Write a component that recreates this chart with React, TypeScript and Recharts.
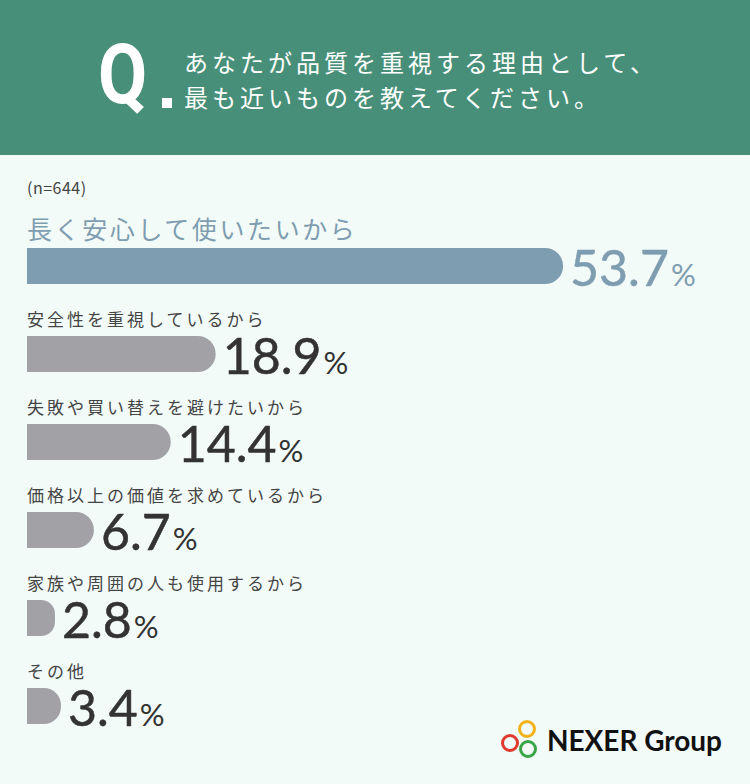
import { BarChart, Bar, XAxis, YAxis, Cell, LabelList } from 'recharts'

document.body.style.margin = '0'

const categories = [
  '長く安心して使いたいから',
  '安全性を重視しているから',
  '失敗や買い替えを避けたいから',
  '価格以上の価値を求めているから',
  '家族や周囲の人も使用するから',
  'その他',
]
const shares = [53.7, 18.9, 14.4, 6.7, 2.8, 3.4]
const barColors = ['#7f9db0', '#a1a1a6', '#a1a1a6', '#a1a1a6', '#a1a1a6', '#a1a1a6']
const questionLines = ['あなたが品質を重視する理由として、', '最も近いものを教えてください。']
const sampleNote = '(n=644)'

const data = categories.map((name, i) => ({ name, value: shares[i] }))

const JP = '"Noto Sans CJK JP", "Noto Sans", sans-serif'
const NUM = 'Lato, "Noto Sans", sans-serif'

function CategoryLabel(props: any) {
  const { x, y, value, index } = props
  const first = index === 0
  return (
    <text
      x={x}
      y={first ? y - 9 : y - 10}
      fill={first ? '#7f9db0' : '#444'}
      fontSize={first ? 25 : 17}
      letterSpacing={first ? 2.6 : 3}
      fontFamily={JP}
    >
      {value}
    </text>
  )
}

function ValueLabel(props: any) {
  const { x, y, width, height, value, index } = props
  const first = index === 0
  const color = first ? '#7f9db0' : '#333'
  return (
    <text x={x + width + 7} y={y + height + 2} fill={color} fontFamily={NUM}>
      <tspan fontSize={50} stroke={color} strokeWidth={0.5}>
        {value.toFixed(1)}
      </tspan>
      <tspan fontSize={31} dx={2}>%</tspan>
    </text>
  )
}

export default function App() {
  return (
    <div
      style={{
        position: 'relative',
        width: 750,
        height: 784,
        background: '#f2fbf8',
        overflow: 'hidden',
      }}
    >
      <div style={{ position: 'absolute', left: 0, top: 0, width: 750, height: 155, background: '#478f79' }}>
        <div
          style={{
            position: 'absolute',
            left: 98,
            top: 25,
            fontFamily: 'Roboto, sans-serif',
            fontWeight: 700,
            fontSize: 84,
            lineHeight: '100px',
            color: '#fff',
            transform: 'scaleX(0.85)',
            transformOrigin: 'left top',
          }}
        >
          Q
        </div>
        <div style={{ position: 'absolute', left: 162, top: 98, width: 10, height: 10, background: '#fff' }} />
        {questionLines.map((line, i) => (
          <div
            key={i}
            style={{
              position: 'absolute',
              left: 184,
              top: 46 + i * 35,
              fontFamily: JP,
              fontSize: 24,
              lineHeight: '32px',
              letterSpacing: 4,
              color: '#fff',
              whiteSpace: 'nowrap',
            }}
          >
            {line}
          </div>
        ))}
      </div>

      <div
        style={{
          position: 'absolute',
          left: 27,
          top: 175,
          fontFamily: JP,
          fontSize: 16,
          letterSpacing: 0.5,
          color: '#444',
        }}
      >
        {sampleNote}
      </div>

      <div style={{ position: 'absolute', left: 0, top: 0 }}>
        <BarChart
          width={750}
          height={784}
          data={data}
          layout="vertical"
          margin={{ top: 222, right: 124, bottom: 34, left: 27 }}
        >
          <XAxis type="number" domain={[0, 60]} hide />
          <YAxis type="category" dataKey="name" hide width={0} />
          <Bar dataKey="value" barSize={36} radius={[0, 18, 18, 0]} isAnimationActive={false}>
            {data.map((_, i) => (
              <Cell key={i} fill={barColors[i]} />
            ))}
            <LabelList dataKey="name" content={CategoryLabel} />
            <LabelList dataKey="value" content={ValueLabel} />
          </Bar>
        </BarChart>
      </div>

      <svg style={{ position: 'absolute', left: 495, top: 713 }} width={240} height={56}>
        <circle cx={15} cy={30} r={7.5} fill="none" stroke="#e03a2f" strokeWidth={3} />
        <circle cx={32} cy={16} r={7.5} fill="none" stroke="#f2b318" strokeWidth={3} />
        <circle cx={33} cy={36} r={7.5} fill="none" stroke="#3aa548" strokeWidth={3} />
        <text
          x={52}
          y={38}
          fontFamily={NUM}
          fontWeight={700}
          fontSize={29}
          fill="#111"
          textLength={175}
          lengthAdjust="spacingAndGlyphs"
        >
          NEXER Group
        </text>
      </svg>
    </div>
  )
}
